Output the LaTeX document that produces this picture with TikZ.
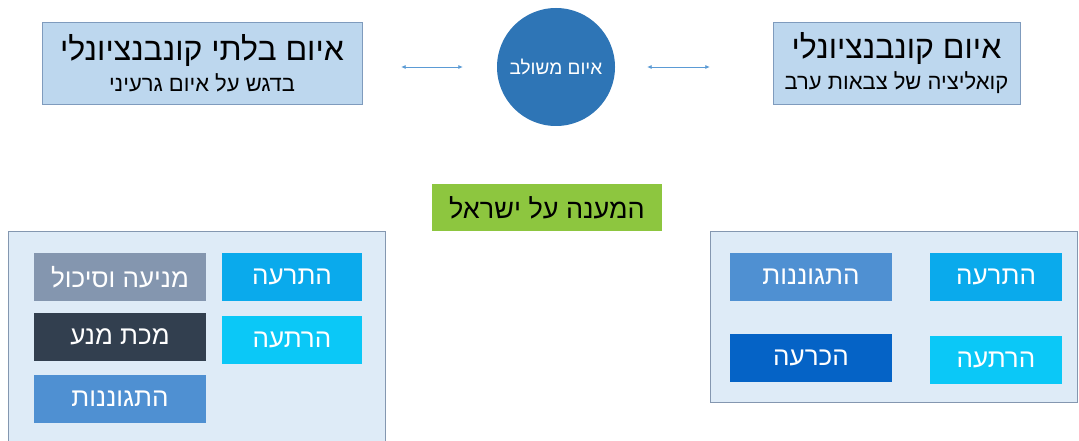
\documentclass[tikz,border=0pt]{standalone}
\usepackage{fontspec}
\setmainfont{Liberation Sans}
\newfontfamily\hebfont[Script=Hebrew]{Liberation Sans}
\TeXXeTstate=1
\usetikzlibrary{arrows.meta}

\definecolor{topfill}{HTML}{BDD7EE}
\definecolor{topline}{HTML}{7F9BBD}
\definecolor{panelfill}{HTML}{DEEBF7}
\definecolor{panelline}{HTML}{8497B0}
\definecolor{circblue}{HTML}{2E75B6}
\definecolor{arrowblue}{HTML}{5B9BD5}
\definecolor{answergreen}{HTML}{8DC63F}
\definecolor{cyanA}{HTML}{0AAAEC}
\definecolor{cyanB}{HTML}{0BC8F7}
\definecolor{greyblue}{HTML}{8496AF}
\definecolor{navy}{HTML}{323F4F}
\definecolor{midblue}{HTML}{4F90D2}
\definecolor{deepblue}{HTML}{0563C6}

\newcommand{\heb}[1]{{\hebfont\beginR #1\endR}}
\newcommand{\fsz}[1]{\fontsize{#1}{#1}\selectfont}

\begin{document}
\begin{tikzpicture}[x=1pt,y=-1pt,
    topbox/.style={draw=topline,fill=topfill,align=center,inner sep=0pt},
    panel/.style={draw=panelline,fill=panelfill,line width=.8pt},
    tag/.style={fill=#1,text=white,inner sep=0pt,minimum height=48,font=\fsz{26}},
    link/.style={draw=arrowblue,line width=.7pt,{Latex[length=4.5pt,width=4pt]}-{Latex[length=4.5pt,width=4pt]}}]
  \useasboundingbox[fill=white] (0,0) rectangle (1079,441);

  %% threats
  \node[topbox,minimum width=320,minimum height=82] (nonconv) at (202,63)
    {\fsz{32}\heb{איום בלתי קונבנציונלי}\\[6pt]\fsz{22}\heb{בדגש על איום גרעיני}};
  \node[topbox,minimum width=247,minimum height=82] (conv) at (896.5,63)
    {\fsz{32}\heb{איום קונבנציונלי}\\[6pt]\fsz{22}\heb{קואליציה של צבאות ערב}};
  \node[circle,fill=circblue,text=white,minimum size=118,inner sep=0pt,font=\fsz{19}] (combined) at (556,67)
    {\heb{איום משולב}};
  \draw[link,shorten <=39pt,shorten >=34pt] (nonconv.east |- combined) -- (combined.west);
  \draw[link,shorten <=32pt,shorten >=63pt] (combined.east) -- (conv.west |- combined);

  %% the answer
  \node[fill=answergreen,minimum width=230,minimum height=47,inner sep=0pt,font=\fsz{27}] (answer) at (547,207.5)
    {\heb{המענה על ישראל}};

  %% left panel
  \draw[panel] (8,231) rectangle (385,452);
  \node[tag=greyblue,minimum width=172] (prevent) at (120,277) {\heb{מניעה וסיכול}};
  \node[tag=navy,minimum width=172] (preempt) at (120,337) {\heb{מכת מנע}};
  \node[tag=midblue,minimum width=172] (defendL) at (120,399) {\heb{התגוננות}};
  \node[tag=cyanA,minimum width=140] (warnL) at (292,277) {\heb{התרעה}};
  \node[tag=cyanB,minimum width=140] (deterL) at (292,340) {\heb{הרתעה}};

  %% right panel
  \draw[panel] (710,231) rectangle (1077,402);
  \node[tag=midblue,minimum width=162] (defendR) at (811,276.5) {\heb{התגוננות}};
  \node[tag=deepblue,minimum width=162] (decide) at (811,358) {\heb{הכרעה}};
  \node[tag=cyanA,minimum width=132] (warnR) at (996,276.5) {\heb{התרעה}};
  \node[tag=cyanB,minimum width=132] (deterR) at (996,360) {\heb{הרתעה}};
\end{tikzpicture}
\end{document}
